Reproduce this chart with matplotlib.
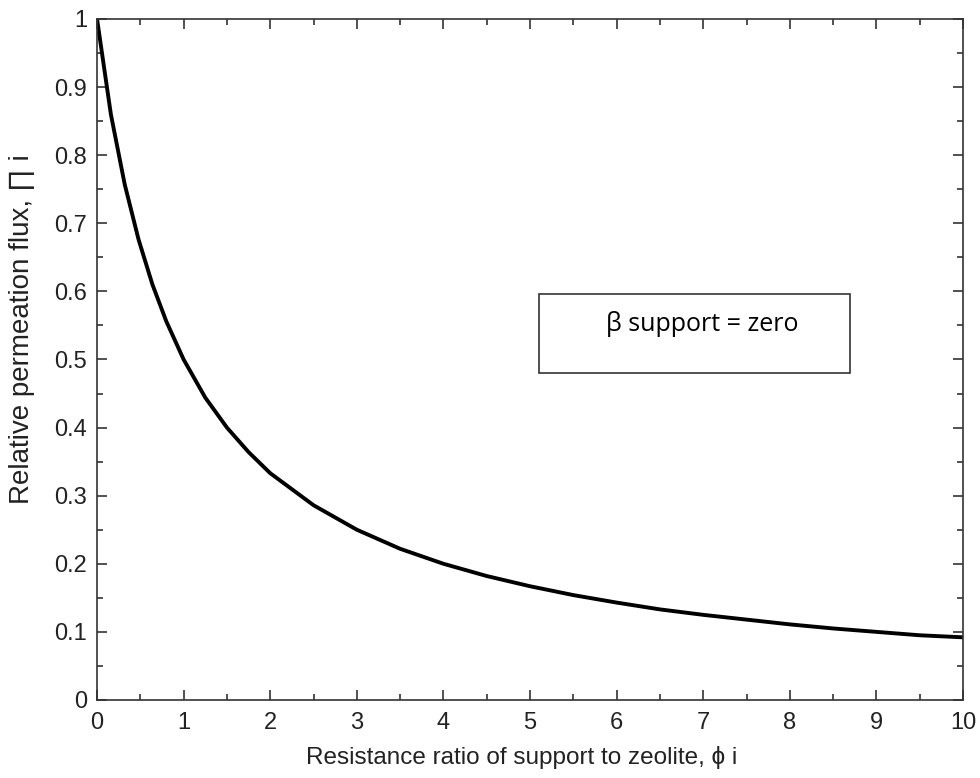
import matplotlib
matplotlib.use("Agg")
import matplotlib.pyplot as plt
from matplotlib.ticker import MultipleLocator
from matplotlib.patches import Rectangle

# Data
phi = [0.0, 0.16, 0.32, 0.48, 0.64, 0.8, 1.0, 1.25, 1.5, 1.75, 2.0, 2.5, 3.0, 3.5,
       4.0, 4.5, 5.0, 5.5, 6.0, 6.5, 7.0, 7.5, 8.0, 8.5, 9.0, 9.5, 10.0]
flux = [1.0, 0.86, 0.757, 0.676, 0.61, 0.556, 0.5, 0.444, 0.4, 0.364, 0.333, 0.286,
        0.25, 0.222, 0.2, 0.182, 0.167, 0.154, 0.143, 0.133, 0.125, 0.118, 0.111,
        0.105, 0.1, 0.095, 0.092]
x_ticks = [0, 1, 2, 3, 4, 5, 6, 7, 8, 9, 10]
y_ticks = [0, 0.1, 0.2, 0.3, 0.4, 0.5, 0.6, 0.7, 0.8, 0.9, 1]
y_tick_labels = ["0", "0.1", "0.2", "0.3", "0.4", "0.5", "0.6", "0.7", "0.8", "0.9", "1"]

plt.rcParams['font.family'] = ['Liberation Sans', 'DejaVu Sans']
txt = '#222222'

fig = plt.figure(figsize=(9.8, 7.78), dpi=100)
ax = fig.add_axes([0.099, 0.1003, 0.8837, 0.8753])
ax.plot(phi, flux, color='black', lw=2.8, solid_joinstyle='round')

ax.set_xlim(0, 10)
ax.set_ylim(0, 1)
ax.set_xticks(x_ticks)
ax.set_xticklabels([str(t) for t in x_ticks])
ax.set_yticks(y_ticks)
ax.set_yticklabels(y_tick_labels)
ax.xaxis.set_minor_locator(MultipleLocator(0.5))
ax.yaxis.set_minor_locator(MultipleLocator(0.05))
ax.tick_params(which='both', direction='in', top=True, right=True,
               colors='#333333', labelcolor=txt, width=1.2)
ax.tick_params(which='major', length=7.2, labelsize=17)
ax.tick_params(axis='x', which='major', pad=9)
ax.tick_params(axis='y', which='major', pad=7)
ax.tick_params(which='minor', length=4)
for s in ax.spines.values():
    s.set_color('#333333')
    s.set_linewidth(1.2)

ax.set_xlabel("Resistance ratio of support to zeolite, ϕ i", fontsize=17.5, color=txt)
ax.xaxis.set_label_coords(0.49, -0.084, transform=ax.transAxes)
ax.xaxis.label.set_va('center')
ax.set_ylabel("Relative permeation flux, ∏ i", fontsize=20, color=txt)
ax.yaxis.set_label_coords(-0.087, 0.545, transform=ax.transAxes)
ax.yaxis.label.set_va('center')

# annotation box
ax.add_patch(Rectangle((5.10, 0.480), 3.60, 0.116, transform=ax.transData,
                       fill=False, edgecolor='#333333', lw=1.2, zorder=3))
ax.text(5.88, 0.552, "β support = zero", fontsize=18, color='black',
        family=['Open Sans', 'DejaVu Sans'], va='center', ha='left')

fig.savefig("out.png", dpi=100)
